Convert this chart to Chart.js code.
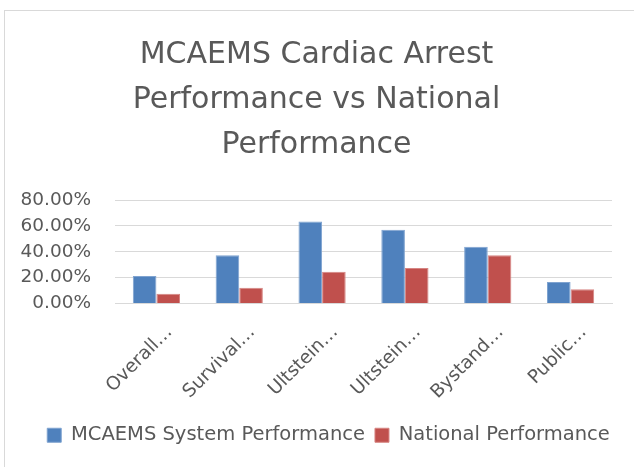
<!DOCTYPE html>
<html>
<head>
<meta charset="utf-8">
<script src="https://cdn.jsdelivr.net/npm/chart.js@4/dist/chart.umd.min.js"></script>
<style>
  html, body { margin: 0; padding: 0; background: #fff; overflow: hidden; }
  #wrap { position: relative; width: 634px; height: 467px; overflow: hidden; }
  #frame { position: absolute; left: 4px; top: 10px; width: 700px; height: 500px;
           border: 1px solid #d9d9d9; box-sizing: border-box; }
  canvas { position: absolute; left: 0; top: 0; }
</style>
</head>
<body>
<div id="wrap">
  <div id="frame"></div>
  <canvas id="chart" width="634" height="467"></canvas>
</div>
<script>
// categories as shown (Excel truncated them)
const categories = ['Overall…', 'Survival…', 'Ultstein…', 'Ultstein…', 'Bystand…', 'Public…'];
const mcaemsValues = [21.2, 37.3, 63.4, 57.0, 43.8, 16.6];
const nationalValues = [7.5, 12.2, 24.6, 27.4, 37.3, 11.1];
const titleLines = ['MCAEMS Cardiac Arrest', 'Performance vs National', 'Performance'];
const yTicks = [0, 20, 40, 60, 80];

const textColor = '#595959';
const font = 'DejaVu Sans';

// Excel legend sits a bit right of centre
const legendShift = {
  id: 'legendShift',
  beforeDraw(chart) {
    const lg = chart.legend;
    if (!lg || lg._shifted) return;
    const orig = lg.draw.bind(lg);
    lg.draw = function () {
      chart.ctx.save();
      chart.ctx.translate(12, 0);
      orig();
      chart.ctx.restore();
    };
    lg._shifted = true;
  }
};

new Chart(document.getElementById('chart'), {
  type: 'bar',
  data: {
    labels: categories,
    datasets: [
      { label: 'MCAEMS System Performance', data: mcaemsValues, backgroundColor: '#4f81bd',
        borderColor: '#7fa3d0', borderWidth: 1, borderSkipped: 'bottom',
        categoryPercentage: 0.57, barPercentage: 1 },
      { label: 'National Performance', data: nationalValues, backgroundColor: '#c0504d',
        borderColor: '#d68583', borderWidth: 1, borderSkipped: 'bottom',
        categoryPercentage: 0.57, barPercentage: 1 }
    ]
  },
  plugins: [legendShift],
  options: {
    responsive: false,
    animation: false,
    layout: { padding: { left: 21, right: 22, bottom: 12 } },
    plugins: {
      title: {
        display: true,
        text: titleLines,
        color: textColor,
        font: { family: font, size: 30, weight: 'normal', lineHeight: 1.5 },
        padding: { top: 33, bottom: 32 }
      },
      legend: {
        position: 'bottom',
        labels: {
          color: textColor,
          font: { family: font, size: 19.5 },
          boxWidth: 14,
          boxHeight: 14,
          padding: 10
        }
      },
      tooltip: { enabled: false }
    },
    scales: {
      x: {
        grid: { display: false },
        border: { color: '#d9d9d9' },
        afterFit: s => { s.paddingLeft = 0; s.paddingRight = 0; s.height = 112; },
        ticks: {
          color: textColor,
          font: { family: font, size: 18.5 },
          maxRotation: 45,
          minRotation: 45,
          autoSkip: false,
          labelOffset: 13,
          padding: 10
        }
      },
      y: {
        min: yTicks[0],
        max: yTicks[yTicks.length - 1],
        grid: { color: '#d9d9d9', drawTicks: false },
        border: { display: false },
        afterBuildTicks: s => { s.ticks = yTicks.map(v => ({ value: v })); },
        afterFit: s => { s.width = 94; },
        ticks: {
          color: textColor,
          font: { family: font, size: 18.5 },
          padding: 24,
          autoSkip: false,
          callback: v => v.toFixed(2) + '%'
        }
      }
    }
  }
});
</script>
</body>
</html>
